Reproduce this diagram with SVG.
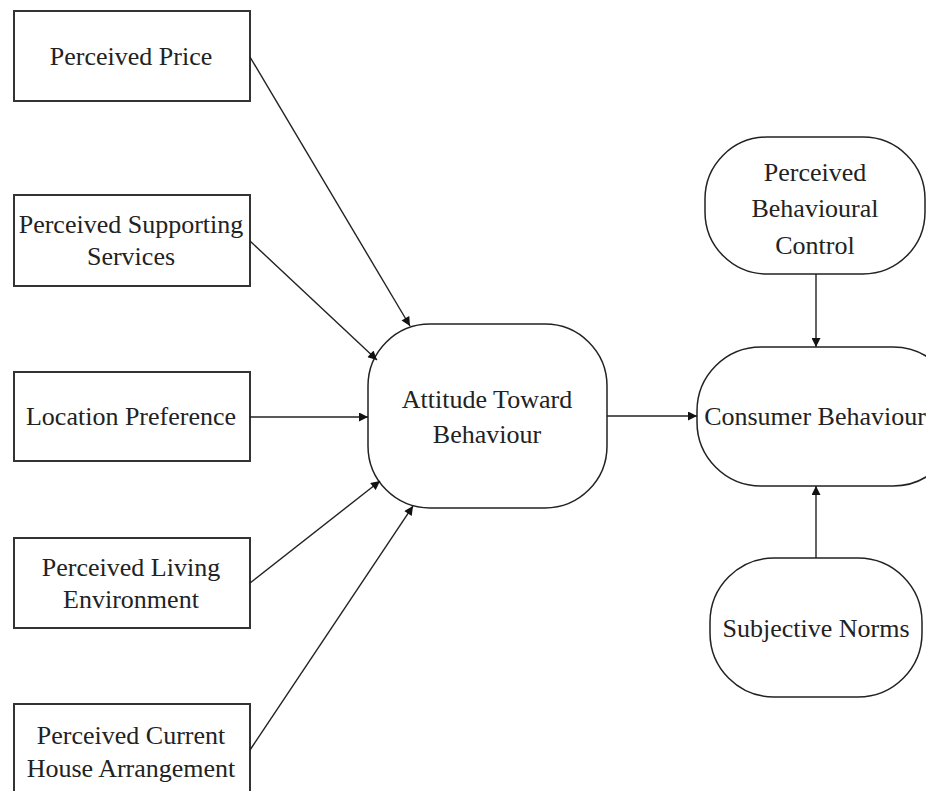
<svg xmlns="http://www.w3.org/2000/svg" width="926" height="791" viewBox="0 0 926 791">
<style>
.box{fill:#fff;stroke:#333;stroke-width:2}
.rnd{fill:#fff;stroke:#222;stroke-width:1.5}
text{font-family:"Liberation Serif","Times New Roman",serif;font-size:26px;fill:#222;text-anchor:middle;dominant-baseline:central}
.c line{stroke:#222;stroke-width:1.4;marker-end:url(#ah)}
</style>
<defs>
<marker id="ah" viewBox="0 0 10 10" refX="10" refY="5" markerWidth="10" markerHeight="9" markerUnits="userSpaceOnUse" orient="auto">
<path d="M0,0 L10,5 L0,10 z" fill="#111"/>
</marker>
</defs>
<rect width="926" height="791" fill="#fff"/>
<g id="price"><rect class="box" x="14" y="11" width="236" height="90"/><text x="131" y="56">Perceived Price</text></g>
<g id="support"><rect class="box" x="14" y="195" width="236" height="91"/><text x="131" y="224">Perceived Supporting</text><text x="131" y="256">Services</text></g>
<g id="location"><rect class="box" x="14" y="372" width="236" height="89"/><text x="131" y="416">Location Preference</text></g>
<g id="living"><rect class="box" x="14" y="538" width="236" height="90"/><text x="131" y="567">Perceived Living</text><text x="131" y="599">Environment</text></g>
<g id="house"><rect class="box" x="14" y="704" width="236" height="100"/><text x="131" y="735">Perceived Current</text><text x="131" y="768">House Arrangement</text></g>
<g id="attitude"><rect class="rnd" x="368" y="324" width="239" height="184" rx="62" ry="62"/><text x="487" y="399">Attitude Toward</text><text x="487" y="434">Behaviour</text></g>
<g id="pbc"><rect class="rnd" x="705" y="137" width="220" height="137" rx="62" ry="62"/><text x="815" y="172">Perceived</text><text x="815" y="208">Behavioural</text><text x="815" y="245">Control</text></g>
<g id="consumer"><rect class="rnd" x="697" y="347" width="260" height="139" rx="64" ry="64"/><text x="815" y="416">Consumer Behaviour</text></g>
<g id="norms"><rect class="rnd" x="710" y="558" width="212" height="139" rx="64" ry="64"/><text x="816" y="628">Subjective Norms</text></g>
<g class="c" id="connectors">
<line x1="250" y1="57" x2="410" y2="326"/>
<line x1="250" y1="241" x2="377" y2="360"/>
<line x1="250" y1="417" x2="368" y2="417"/>
<line x1="250" y1="583" x2="380" y2="481"/>
<line x1="250" y1="750" x2="413" y2="506"/>
<line x1="607" y1="416" x2="697" y2="416"/>
<line x1="816" y1="274" x2="816" y2="347"/>
<line x1="816" y1="558" x2="816" y2="486"/>
</g>
</svg>
